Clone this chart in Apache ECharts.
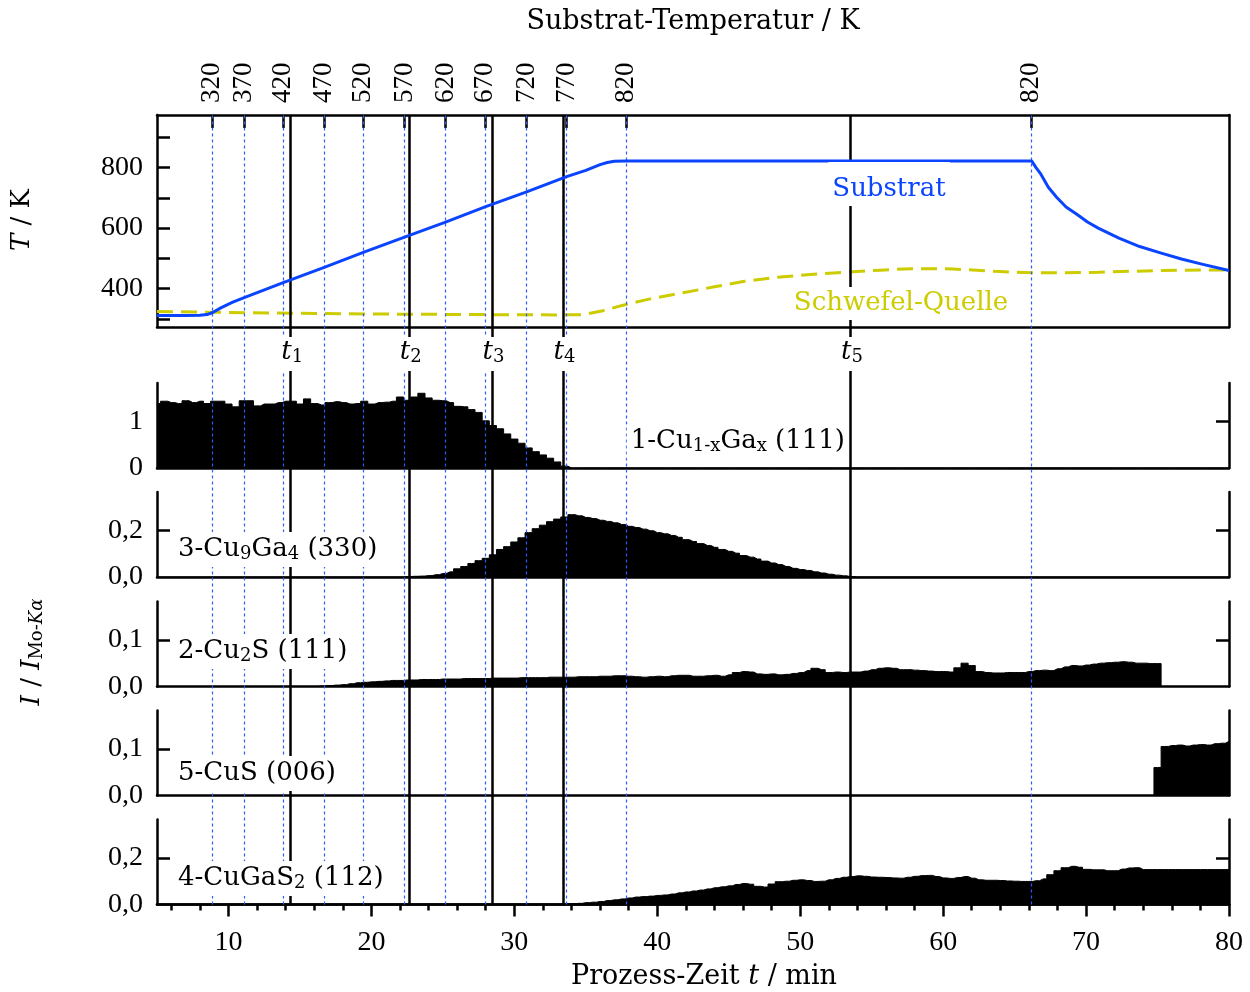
<!DOCTYPE html>
<html>
<head>
<meta charset="utf-8">
<script src="https://cdn.jsdelivr.net/npm/echarts@6.0.0/dist/echarts.min.js"></script>
<style>
html,body{margin:0;padding:0;background:#fff;}
#c{width:1250px;height:992px;}
</style>
</head>
<body>
<div id="c"></div>
<script>
// ---------------- DATA ----------------
// top axis: substrate temperature reached at given process times
const TOP_K = [320, 370, 420, 470, 520, 570, 620, 670, 720, 770, 820, 820];
const TOP_T = [8.86, 11.10, 13.83, 16.70, 19.43, 22.32, 25.19, 27.95, 30.86, 33.66, 37.82, 66.16];
// characteristic times t1..t5
const T_MARK = [14.35, 22.65, 28.44, 33.40, 53.52];
const T_NAMES = ['1', '2', '3', '4', '5'];

// temperature curves (K)
const SUB_T = [5, 6, 7, 8, 8.5, 8.86, 9.5, 10.3, 11.1, 13.83, 16.7, 19.43, 22.32, 25.19, 27.95, 30.86, 33.66, 35, 36, 36.5, 37, 37.82, 50, 63, 66.2, 66.5, 66.8, 67.36, 67.94, 68.6, 69.4, 70.1, 70.85, 72.3, 73.75, 75.2, 76.67, 78.1, 80];
const SUB_K = [311, 311, 311, 312, 314, 320, 337, 355, 370, 420, 470, 520, 570, 620, 670, 720, 770, 791, 810, 817, 821, 822, 822, 822, 822, 800, 781, 735, 702, 670, 644, 620, 600, 567, 539, 518, 498, 481, 460];
const SUL_T = [5, 8.7, 14.3, 20, 27.8, 33.4, 34.8, 36.2, 37.6, 39.5, 41.8, 44, 46.1, 48.3, 50.5, 53.4, 55.6, 57.8, 60.7, 63.6, 66.2, 68.5, 70.85, 75.2, 80];
const SUL_K = [324, 322, 318.5, 316, 314, 313, 314, 327, 345, 366, 386, 406, 424, 437, 446, 455, 461, 466, 465, 457, 452, 452, 454, 460, 462];

// process time bins (min)
const BIN_T = [5,5.5,6,6.5,7,7.5,8,8.5,9,9.5,10,10.5,11,11.5,12,12.5,13,13.5,14,14.5,15,15.5,16,16.5,17,17.5,18,18.5,19,19.5,20,20.5,21,21.5,22,22.5,23,23.5,24,24.5,25,25.5,26,26.5,27,27.5,28,28.5,29,29.5,30,30.5,31,31.5,32,32.5,33,33.5,34,34.5,35,35.5,36,36.5,37,37.5,38,38.5,39,39.5,40,40.5,41,41.5,42,42.5,43,43.5,44,44.5,45,45.5,46,46.5,47,47.5,48,48.5,49,49.5,50,50.5,51,51.5,52,52.5,53,53.5,54,54.5,55,55.5,56,56.5,57,57.5,58,58.5,59,59.5,60,60.5,61,61.5,62,62.5,63,63.5,64,64.5,65,65.5,66,66.5,67,67.5,68,68.5,69,69.5,70,70.5,71,71.5,72,72.5,73,73.5,74,74.5,75,75.5,76,76.5,77,77.5,78,78.5,79,79.5,80];

// 1-Cu(1-x)Ga(x) (111)
const V_CUGA = [1.38,1.43,1.40,1.38,1.44,1.40,1.43,1.38,1.43,1.43,
1.37,1.31,1.44,1.44,1.33,1.37,1.37,1.40,1.43,1.43,
1.37,1.48,1.38,1.35,1.40,1.42,1.40,1.37,1.38,1.43,
1.37,1.40,1.41,1.43,1.52,1.45,1.52,1.60,1.50,1.45,
1.44,1.40,1.32,1.31,1.25,1.19,1.01,0.91,0.84,0.73,
0.62,0.53,0.43,0.35,0.28,0.21,0.13,0.04,
0,0,0,0,0,0,0,0,0,0,0,0,0,0,0,0,0,0,0,0,0,0,0,0,0,0,0,0,0,0,0,0,0,0,0,0,0,0,0,0,0,0,0,0,0,0,0,0,0,0,0,0,0,0,0,0,0,0,0,0,0,0,0,0,0,0,0,0,0,0,0,0,0,0,0,0,0,0,0,0,0,0,0,0,0,0,0,0,0,0,0,0,0];

// 3-Cu9Ga4 (330)
const V_CU9GA4 = [0,0,0,0,0,0,0,0,0,0,0,0,0,0,0,0,0,0,0,0,0,0,0,0,0,0,0,0,0,0,0,0,0,0,0,
0.002,0.003,0.004,0.006,0.010,0.015,0.022,0.035,0.045,0.058,
0.070,0.080,0.095,0.118,0.130,0.150,0.168,0.190,0.207,0.222,
0.237,0.248,0.257,0.267,0.262,0.255,0.250,0.243,0.238,0.232,
0.225,0.217,0.212,0.205,0.198,0.190,0.185,0.178,0.170,0.160,
0.152,0.143,0.135,0.127,0.118,0.110,0.102,0.092,0.085,0.077,
0.068,0.060,0.053,0.045,0.037,0.032,0.028,0.022,0.017,0.012,
0.008,0.005,0.002,
0,0,0,0,0,0,0,0,0,0,0,0,0,0,0,0,0,0,0,0,0,0,0,0,0,0,0,0,0,0,0,0,0,0,0,0,0,0,0,0,0,0,0,0,0,0,0,0,0,0,0,0,0];

// 2-Cu2S (111)
const V_CU2S = [0,0,0,0,0,0,0,0,0,0,0,0,0,0,0,0,0,0,0,0,0,0,0,
0.001,0.002,0.003,0.004,0.006,0.008,0.009,0.010,0.011,0.012,
0.013,0.013,0.014,0.014,0.015,0.015,0.015,0.016,0.016,0.016,
0.017,0.017,0.017,0.017,0.018,0.018,0.018,0.018,0.019,0.019,
0.019,0.019,0.020,0.020,0.020,0.020,0.021,0.021,0.021,0.022,
0.022,0.023,0.023,0.022,0.021,0.020,0.021,0.022,0.021,0.023,
0.024,0.024,0.022,0.022,0.023,0.024,0.022,0.025,0.030,0.032,
0.031,0.027,0.026,0.027,0.025,0.026,0.028,0.030,0.034,0.039,
0.036,0.030,0.031,0.030,0.031,0.031,0.033,0.036,0.039,0.040,
0.039,0.036,0.036,0.035,0.034,0.033,0.032,0.032,0.031,0.040,
0.050,0.045,0.032,0.030,0.029,0.029,0.030,0.030,0.030,0.032,
0.034,0.035,0.034,0.038,0.042,0.045,0.044,0.046,0.048,0.050,
0.051,0.052,0.053,0.052,0.050,0.050,0.049,0.049,
0,0,0,0,0,0,0,0,0,0];

// 5-CuS (006)
const V_CUS = [0,0,0,0,0,0,0,0,0,0,0,0,0,0,0,0,0,0,0,0,0,0,0,0,0,0,0,0,0,0,0,0,0,0,0,0,0,0,0,0,0,0,0,0,0,0,0,0,0,0,0,0,0,0,0,0,0,0,0,0,0,0,0,0,0,0,0,0,0,0,0,0,0,0,0,0,0,0,0,0,0,0,0,0,0,0,0,0,0,0,0,0,0,0,0,0,0,0,0,0,0,0,0,0,0,0,0,0,0,0,0,0,0,0,0,0,0,0,0,0,0,0,0,0,0,0,0,0,0,0,0,0,0,0,0,0,0,0,0,0,
0.060,0.105,0.107,0.108,0.106,0.108,0.109,0.108,0.111,0.112,0.116];

// 4-CuGaS2 (112)
const V_CUGAS2 = [0,0,0,0,0,0,0,0,0,0,0,0,0,0,0,0,0,0,0,0,0,0,0,0,0,0,0,0,0,0,0,0,0,0,0,0,0,0,0,0,0,0,0,0,0,0,0,0,0,0,0,0,0,0,0,0,0,
0.001,0.003,0.005,0.008,0.010,0.013,0.017,0.020,0.024,0.028,
0.032,0.034,0.036,0.039,0.041,0.045,0.050,0.054,0.058,0.062,
0.067,0.072,0.076,0.080,0.086,0.090,0.087,0.078,0.075,0.088,
0.098,0.100,0.104,0.106,0.103,0.099,0.100,0.106,0.112,0.117,
0.120,0.123,0.121,0.118,0.117,0.116,0.114,0.113,0.117,0.121,
0.124,0.125,0.120,0.114,0.112,0.116,0.120,0.113,0.106,0.104,
0.104,0.103,0.101,0.100,0.099,0.099,0.102,0.110,0.128,0.145,
0.158,0.164,0.160,0.151,0.149,0.149,0.145,0.145,0.152,0.157,
0.158,0.150,0.150,0.150,0.150,0.150,0.150,0.150,0.150,0.150,
0.150,0.150,0.150,0.150];

const X_MAJOR = [10, 20, 30, 40, 50, 60, 70, 80];
const X_MINOR = [6, 8, 12, 14, 16, 18, 22, 24, 26, 28, 32, 34, 36, 38, 42, 44, 46, 48, 52, 54, 56, 58, 62, 64, 66, 68, 72, 74, 76, 78];
const Y_T_TICKS = [300, 400, 500, 600, 700, 800, 900];
const Y_T_LABELS = [400, 600, 800];

// ---------------- CHART ----------------
const SERIF = "'DejaVu Serif', serif";
const NUMF = "'Liberation Serif', serif";
const BLUE = '#0a44ff';
const DOT_BLUE = '#2a5cff';
const YEL = '#cccc00';
const LW = 2.5;

const chart = echarts.init(document.getElementById('c'), null, {renderer: 'canvas'});

const LEFT = 157, WID = 1072;
const LOW_TOP = [383, 492, 601.5, 710.5, 819.5];
const LOW_H = 85;
const grids = [{left: LEFT, top: 115, width: WID, height: 212}];
LOW_TOP.forEach(t => grids.push({left: LEFT, top: t, width: WID, height: LOW_H}));
grids.push({left: LEFT, top: 115, width: WID, height: LOW_TOP[4] + LOW_H - 115});

const axLine = () => ({show: true, onZero: false, lineStyle: {color: '#000', width: LW}});
const numLabel = (extra) => Object.assign({show: true, color: '#000', fontFamily: NUMF, fontSize: 28}, extra);

function xPlain(g) {
  return {type: 'value', gridIndex: g, min: 5, max: 80, position: 'bottom',
    axisLine: axLine(), axisTick: {show: false}, axisLabel: {show: false}, splitLine: {show: false}};
}

const xAxes = [
  xPlain(0),
  {type: 'value', gridIndex: 0, min: 5, max: 80, position: 'top',
    axisLine: axLine(),
    axisTick: {show: true, inside: true, length: 13, lineStyle: {color: '#000', width: LW}, customValues: TOP_T},
    axisLabel: numLabel({rotate: -90, margin: 12, fontSize: 27, customValues: TOP_T,
      formatter: v => { const k = TOP_T.findIndex(x => Math.abs(x - v) < 1e-6); return k >= 0 ? String(TOP_K[k]) : ''; }}),
    splitLine: {show: false}},
  xPlain(1), xPlain(2), xPlain(3), xPlain(4),
  {type: 'value', gridIndex: 5, min: 5, max: 80, position: 'bottom',
    axisLine: axLine(),
    axisTick: {show: true, inside: false, length: 12, lineStyle: {color: '#000', width: LW}, customValues: X_MAJOR},
    axisLabel: numLabel({margin: 24, customValues: X_MAJOR}),
    splitLine: {show: false}},
  {type: 'value', gridIndex: 5, min: 5, max: 80, position: 'bottom',
    axisLine: axLine(),
    axisTick: {show: true, inside: false, length: 6, lineStyle: {color: '#000', width: LW}, customValues: X_MINOR},
    axisLabel: {show: false}, splitLine: {show: false}},
  {type: 'value', gridIndex: 6, min: 5, max: 80, show: false}
];

const comma = v => v.toFixed(1).replace('.', ',');
function yPair(g, max, unit, fmt) {
  return [
    {type: 'value', gridIndex: g, position: 'left', min: 0, max: max,
      axisLine: axLine(),
      axisTick: {show: true, inside: true, length: 13, lineStyle: {color: '#000', width: LW}, customValues: [unit]},
      axisLabel: numLabel({margin: 14, customValues: [0, unit], formatter: fmt}),
      splitLine: {show: false}},
    {type: 'value', gridIndex: g, position: 'right', min: 0, max: max,
      axisLine: axLine(),
      axisTick: {show: true, inside: true, length: 13, lineStyle: {color: '#000', width: LW}, customValues: [unit]},
      axisLabel: {show: false}, splitLine: {show: false}}
  ];
}

const yAxes = [
  {type: 'value', gridIndex: 0, position: 'left', min: 273, max: 974,
    axisLine: axLine(),
    axisTick: {show: true, inside: true, length: 13, lineStyle: {color: '#000', width: LW}, customValues: Y_T_TICKS},
    axisLabel: numLabel({margin: 14, customValues: Y_T_LABELS}),
    splitLine: {show: false}},
  {type: 'value', gridIndex: 0, position: 'right', min: 273, max: 974,
    axisLine: axLine(), axisTick: {show: false}, axisLabel: {show: false}, splitLine: {show: false}},
  ...yPair(1, 1.82, 1, v => String(Math.round(v))),
  ...yPair(2, 0.364, 0.2, comma),
  ...yPair(3, 0.182, 0.1, comma),
  ...yPair(4, 0.182, 0.1, comma),
  ...yPair(5, 0.365, 0.2, comma),
  {type: 'value', gridIndex: 6, min: 0, max: 1, show: false}
];

function stepSeries(xi, yi, vals) {
  return {type: 'line', xAxisIndex: xi, yAxisIndex: yi, step: 'middle', symbol: 'none', silent: true, z: 2,
    lineStyle: {color: '#000', width: 1}, areaStyle: {color: '#000', opacity: 1},
    data: BIN_T.map((t, i) => [t, vals[i]])};
}

const series = [
  {type: 'line', xAxisIndex: 8, yAxisIndex: 12, data: [], silent: true, z: 1,
    markLine: {silent: true, symbol: ['none', 'none'], label: {show: false}, animation: false,
      lineStyle: {color: DOT_BLUE, width: 1.2, type: [3, 3]},
      data: TOP_T.map(t => ({xAxis: t}))}},
  {type: 'line', xAxisIndex: 8, yAxisIndex: 12, data: [], silent: true, z: 1,
    markLine: {silent: true, symbol: ['none', 'none'], label: {show: false}, animation: false,
      lineStyle: {color: '#000', width: LW, type: 'solid'},
      data: T_MARK.map(t => ({xAxis: t}))}},
  {type: 'line', xAxisIndex: 0, yAxisIndex: 0, symbol: 'none', silent: true, z: 5, smooth: false,
    lineStyle: {color: BLUE, width: 3, join: 'round'}, data: SUB_T.map((t, i) => [t, SUB_K[i]])},
  {type: 'line', xAxisIndex: 0, yAxisIndex: 0, symbol: 'none', silent: true, z: 4, smooth: false,
    lineStyle: {color: YEL, width: 3, type: [16, 8]}, data: SUL_T.map((t, i) => [t, SUL_K[i]])},
  stepSeries(2, 2, V_CUGA),
  stepSeries(3, 4, V_CU9GA4),
  stepSeries(4, 6, V_CU2S),
  stepSeries(5, 8, V_CUS),
  stepSeries(6, 10, V_CUGAS2)
];

chart.setOption({
  animation: false,
  backgroundColor: '#fff',
  grid: grids,
  xAxis: xAxes,
  yAxis: yAxes,
  series: series
});

// ---------------- TEXT ANNOTATIONS ----------------
const RICH = {
  s: {fontFamily: SERIF, fontSize: 18, lineHeight: 8, verticalAlign: 'bottom'},
  i: {fontFamily: SERIF, fontSize: 26, fontStyle: 'italic', lineHeight: 28},
  is: {fontFamily: SERIF, fontSize: 18, fontStyle: 'italic', lineHeight: 8, verticalAlign: 'bottom'},
  ti: {fontFamily: SERIF, fontSize: 27, fontStyle: 'italic', lineHeight: 28}
};
function txt(text, x, y, opts) {
  const o = opts || {};
  const style = {text: text, rich: RICH, fontFamily: SERIF, fontSize: o.size || 26, lineHeight: 28,
    fill: o.fill || '#000', align: o.align || 'center', verticalAlign: o.va || 'top'};
  if (o.bg) { style.backgroundColor = '#fff'; style.padding = o.pad || [2, 3, 2, 3]; }
  const el = {type: 'text', x: x, y: y, z: 50, zlevel: 0, silent: true, style: style};
  if (o.rot) el.rotation = o.rot;
  return el;
}

const gfx = [];
gfx.push(txt('Substrat-Temperatur / K', LEFT + WID / 2, 22, {va: 'middle', size: 27}));
gfx.push(txt('Prozess-Zeit {ti|t} / min', 704, 977, {va: 'middle', size: 27}));
gfx.push(txt('{i|T} / K', 22, 220, {va: 'middle', rot: Math.PI / 2}));
gfx.push(txt('{i|I} / {i|I}{s|Mo-}{is|Kα}', 32, 652, {va: 'middle', rot: Math.PI / 2}));

gfx.push(txt('Substrat', 889, 162, {fill: BLUE, bg: true, pad: [13, 4, 3, 4]}));
gfx.push(txt('Schwefel-Quelle', 901, 287, {fill: YEL, bg: true, pad: [2, 4, 3, 4]}));
gfx.push(txt('1-Cu{s|1-x}Ga{s|x} (111)', 848, 424, {align: 'right', bg: true, pad: [3, 3, 4, 4]}));
gfx.push(txt('3-Cu{s|9}Ga{s|4} (330)', 175, 532, {align: 'left', bg: true, pad: [3, 4, 4, 3]}));
gfx.push(txt('2-Cu{s|2}S (111)', 175, 634, {align: 'left', bg: true, pad: [3, 4, 4, 3]}));
gfx.push(txt('5-CuS (006)', 175, 756, {align: 'left', bg: true, pad: [3, 4, 4, 3]}));
gfx.push(txt('4-CuGaS{s|2} (112)', 175, 861, {align: 'left', bg: true, pad: [3, 4, 4, 3]}));

T_MARK.forEach((t, k) => {
  const px = chart.convertToPixel({xAxisIndex: 8}, t);
  gfx.push(txt('{i|t}{s|' + T_NAMES[k] + '}', px + 1.5, 337, {bg: true, pad: [1, 2, 5, 2]}));
});

chart.setOption({graphic: gfx});
</script>
</body>
</html>
